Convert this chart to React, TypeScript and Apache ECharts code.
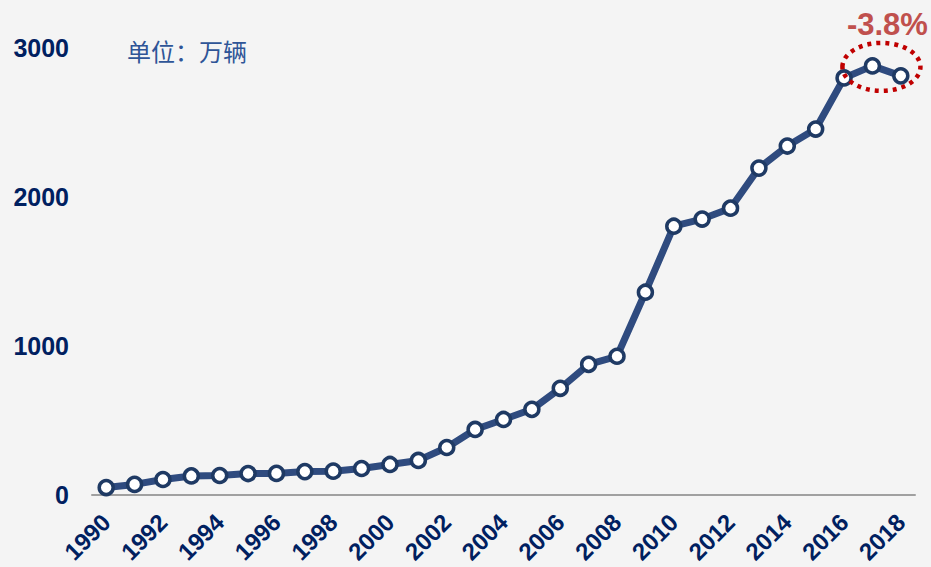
import React, { useEffect, useRef } from "react";
import * as echarts from "echarts";

const years = ["1990","1991","1992","1993","1994","1995","1996","1997","1998","1999","2000","2001","2002","2003","2004","2005","2006","2007","2008","2009","2010","2011","2012","2013","2014","2015","2016","2017","2018"];
const output = [50, 71, 104, 128, 131, 144, 145, 157, 160, 178, 205, 232, 319, 440, 507, 575, 716, 877, 931, 1361, 1804, 1852, 1925, 2194, 2342, 2456, 2799, 2880, 2813];
const yTicks = [0, 1000, 2000, 3000];
const changeLabel = "-3.8%";
const unitLabel = "单位：万辆";

export default function App() {
  const ref = useRef<HTMLDivElement>(null);
  useEffect(() => {
    const chart = echarts.init(ref.current!, null, { renderer: "svg" });
    const unitText = {
      type: "text",
      left: 127,
      top: 38,
      style: {
        text: unitLabel,
        fill: "#2f5597",
        fontSize: 24,
        fontFamily: "Noto Sans CJK SC, sans-serif",
      },
    };
    chart.setOption({
      animation: false,
      backgroundColor: "#f4f4f4",
      grid: { left: 92, right: 16, top: 48, bottom: 72 },
      xAxis: {
        type: "category",
        data: years,
        boundaryGap: true,
        axisLine: { lineStyle: { color: "#a0a0a0", width: 2 } },
        axisTick: { show: false },
        axisLabel: {
          interval: 1,
          rotate: 45,
          color: "#002060",
          fontWeight: "bold",
          fontSize: 24,
          fontFamily: "Liberation Sans, Arial, sans-serif",
          margin: 23,
        },
      },
      yAxis: {
        type: "value",
        min: yTicks[0],
        max: yTicks[yTicks.length - 1],
        interval: 1000,
        axisLine: { show: false },
        axisTick: { show: false },
        splitLine: { show: false },
        axisLabel: {
          color: "#002060",
          fontWeight: "bold",
          fontSize: 25,
          fontFamily: "Liberation Sans, Arial, sans-serif",
          margin: 23,
          formatter: (v: number) => String(v),
        },
      },
      series: [
        {
          type: "line",
          data: output,
          symbol: "circle",
          symbolSize: 14,
          lineStyle: { color: "#2f4b7f", width: 7 },
          itemStyle: { color: "#ffffff", borderColor: "#1f3a64", borderWidth: 3.5 },
          z: 3,
        },
      ],
      graphic: [unitText],
    });
    const c1 = chart.convertToPixel({ seriesIndex: 0 }, [26, output[26]]) as number[];
    const c3 = chart.convertToPixel({ seriesIndex: 0 }, [28, output[28]]) as number[];
    const cx = (c1[0] + c3[0]) / 2 + 9;
    const cy = (c1[1] + c3[1]) / 2 - 10;
    chart.setOption({
      graphic: [
        unitText,
        {
          type: "ellipse",
          shape: { cx, cy, rx: 39, ry: 24 },
          style: { fill: "none", stroke: "#c00000", lineWidth: 4.5, lineDash: [4, 5] },
          z: 10,
        },
        {
          type: "text",
          x: cx + 6,
          y: 24,
          style: {
            text: changeLabel,
            fill: "#c0504d",
            fontSize: 31,
            fontWeight: "bold",
            fontFamily: "Liberation Sans, Arial, sans-serif",
            align: "center",
            verticalAlign: "middle",
          },
          z: 10,
        },
      ],
    });
    return () => chart.dispose();
  }, []);
  return <div ref={ref} style={{ width: 931, height: 567, position: "absolute", left: 0, top: 0 }} />;
}
